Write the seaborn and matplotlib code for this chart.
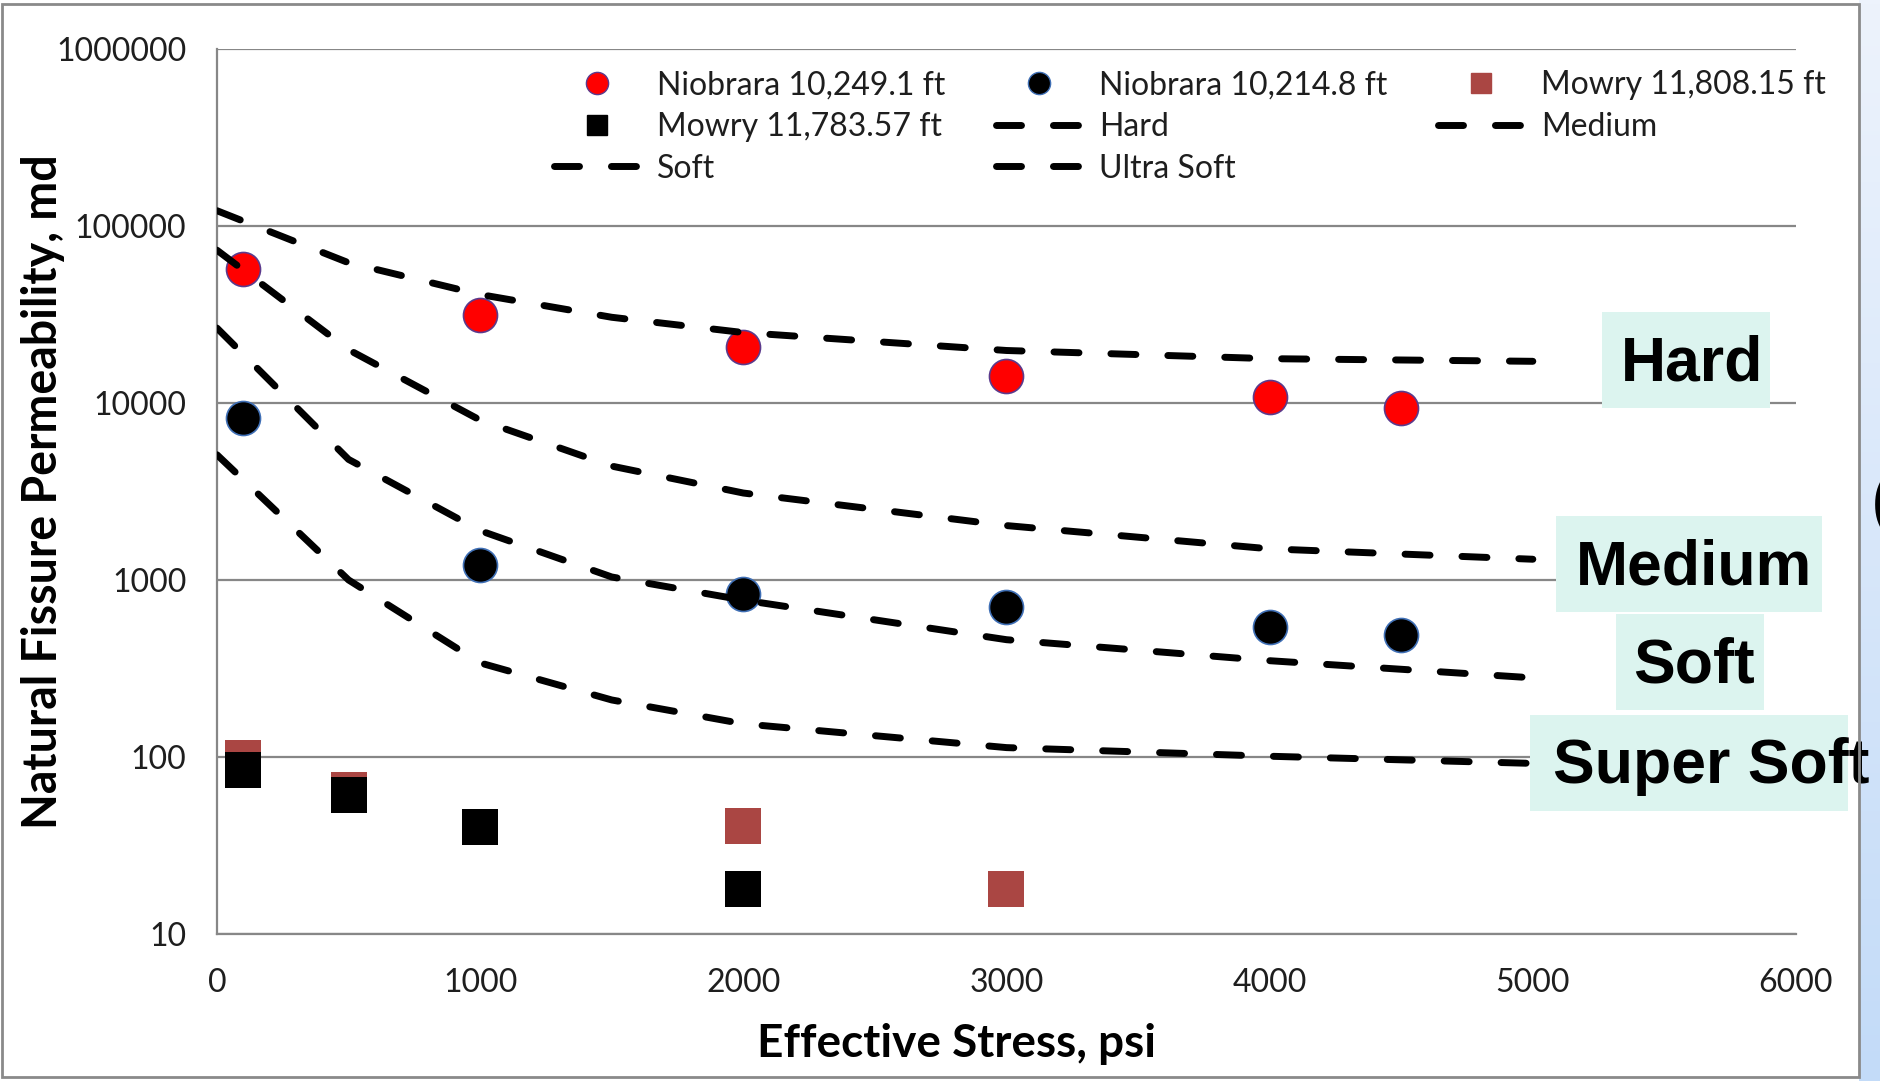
import numpy as np
import matplotlib
matplotlib.use("Agg")
import matplotlib.pyplot as plt
import matplotlib.patches as mpatches
from matplotlib.lines import Line2D
from matplotlib.colors import LinearSegmentedColormap
from matplotlib.ticker import FixedLocator, FixedFormatter, NullLocator
import seaborn as sns

# Measured fissure permeability (md) vs effective stress (psi)
stress_pts = [100, 1000, 2000, 3000, 4000, 4500]
niobrara_10249 = [57000, 31500, 20800, 14300, 10800, 9400]
niobrara_10214 = [8200, 1210, 830, 700, 545, 490]
mowry_11808_stress = [100, 500, 2000, 3000]
mowry_11808 = [99, 65, 41, 18]
mowry_11783_stress = [100, 500, 1000, 2000]
mowry_11783 = [84, 61, 40, 18]

# Rock-type reference curves
curve_stress = [0, 500, 1000, 1500, 2000, 3000, 4000, 5000]
hard = [122000, 62000, 41000, 30500, 25000, 19800, 17800, 17200]
medium = [73000, 20000, 8000, 4400, 3100, 2030, 1500, 1310]
soft = [26500, 4800, 1900, 1040, 770, 460, 350, 280]
ultra_soft = [5100, 1000, 340, 210, 154, 113, 101, 92]

series_names = ["Niobrara 10,249.1 ft", "Niobrara 10,214.8 ft",
                "Mowry 11,808.15 ft", "Mowry 11,783.57 ft",
                "Hard", "Medium", "Soft", "Ultra Soft"]
zone_labels = ["Hard", "Medium", "Soft", "Super Soft"]

x_ticks = [0, 1000, 2000, 3000, 4000, 5000, 6000]
x_tick_labels = ["0", "1000", "2000", "3000", "4000", "5000", "6000"]
y_ticks = [10, 100, 1000, 10000, 100000, 1000000]
y_tick_labels = ["10", "100", "1000", "10000", "100000", "1000000"]

sns.set_style("white")
plt.rcParams["font.family"] = ["Lato", "DejaVu Sans"]

W, H = 1881, 1081


def fx(x):
    return x / W


def fy(y):
    return 1 - y / H


fig = plt.figure(figsize=(W / 100, H / 100), dpi=100)
fig.patch.set_facecolor("white")

# slide background strip on the right
bg = fig.add_axes([fx(1859), 0, 1 - fx(1859), 1])
grad = np.linspace(0, 1, 256)[:, None]
cmap_bg = LinearSegmentedColormap.from_list("bg", ["#EDF3FC", "#C3DBF8"])
bg.imshow(grad, aspect="auto", cmap=cmap_bg, extent=[0, 1, 0, 1])
bg.set_axis_off()

ax = fig.add_axes([fx(217), fy(934), fx(1796) - fx(217), fy(49) - fy(934)])
ax.set_yscale("log")
ax.set_xlim(0, 6000)
ax.set_ylim(10, 1000000)

grey = "#878787"
ax.yaxis.grid(True, color=grey, linewidth=1.6)
ax.xaxis.grid(False)
ax.set_axisbelow(True)
for side in ["top", "right"]:
    ax.spines[side].set_visible(False)
for side in ["left", "bottom"]:
    ax.spines[side].set_color(grey)
    ax.spines[side].set_linewidth(1.6)

ax.xaxis.set_major_locator(FixedLocator(x_ticks))
ax.xaxis.set_major_formatter(FixedFormatter(x_tick_labels))
ax.yaxis.set_major_locator(FixedLocator(y_ticks))
ax.yaxis.set_major_formatter(FixedFormatter(y_tick_labels))
ax.yaxis.set_minor_locator(NullLocator())
ax.xaxis.set_minor_locator(NullLocator())
ax.tick_params(axis="x", direction="out", length=10.5, width=1.6, color=grey,
               pad=14, labelsize=23, labelcolor="#1e1e1e")
ax.tick_params(axis="y", direction="out", length=8.5, width=1.6, color=grey,
               pad=13.5, labelsize=23, labelcolor="#1e1e1e")
ax.set_xlabel("")
ax.set_ylabel("")

# measured points
sns.scatterplot(x=mowry_11808_stress, y=mowry_11808, ax=ax, marker="s", s=700,
                color="#AA4643", edgecolor="#AA4643", linewidth=0, zorder=3)
sns.scatterplot(x=mowry_11783_stress, y=mowry_11783, ax=ax, marker="s", s=700,
                color="black", edgecolor="black", linewidth=0, zorder=3)
sns.scatterplot(x=stress_pts, y=niobrara_10249, ax=ax, marker="o", s=600,
                color="#FF0000", edgecolor="#5B3A8C", linewidth=1.2, zorder=3)
sns.scatterplot(x=stress_pts, y=niobrara_10214, ax=ax, marker="o", s=600,
                color="black", edgecolor="#3F6FB5", linewidth=1.2, zorder=3)

dash_style = (0, (3.6, 4.6))
for curve in [hard, medium, soft, ultra_soft]:
    sns.lineplot(x=curve_stress, y=curve, ax=ax, color="black", linewidth=5,
                 linestyle=dash_style, dash_capstyle="round", zorder=4,
                 legend=False)

# legend (row-major order across three columns)
h_n1 = Line2D([], [], linestyle="none", marker="o", markersize=16,
              markerfacecolor="#FF0000", markeredgecolor="#5B3A8C", markeredgewidth=1)
h_n2 = Line2D([], [], linestyle="none", marker="o", markersize=16,
              markerfacecolor="black", markeredgecolor="#3F6FB5", markeredgewidth=1)
h_m1 = Line2D([], [], linestyle="none", marker="s", markersize=15,
              markerfacecolor="#AA4643", markeredgecolor="#AA4643")
h_m2 = Line2D([], [], linestyle="none", marker="s", markersize=15,
              markerfacecolor="black", markeredgecolor="black")
h_lines = [Line2D([], [], color="black", linewidth=5, linestyle=dash_style,
                  dash_capstyle="round") for _ in range(4)]
handles = [h_n1, h_n2, h_m1, h_m2] + h_lines
order = [0, 3, 6, 1, 4, 7, 2, 5]
leg = ax.legend([handles[i] for i in order], [series_names[i] for i in order],
                ncol=3, loc="center", bbox_to_anchor=(fx(1190), fy(127)),
                bbox_transform=fig.transFigure, frameon=False, fontsize=23,
                handlelength=2.65, handletextpad=0.56, columnspacing=1.6,
                labelspacing=0.36, borderpad=0)
for t in leg.get_texts():
    t.set_color("#1e1e1e")

# axis titles
fig.text(fx(957), fy(1057), "Effective Stress, psi", ha="center", va="baseline",
         fontsize=33, fontweight="bold", color="black")
fig.text(fx(57), fy(492), "Natural Fissure Permeability, md", ha="center",
         va="baseline", rotation=90, rotation_mode="anchor",
         fontsize=33.5, fontweight="bold", color="black")

# rock-type tags on the right
mint = "#DCF4EF"
boxes = [(1602, 312, 1770, 408), (1556, 516, 1822, 612),
         (1616, 614, 1764, 710), (1530, 715, 1848, 811)]
centers = [(1692, 364), (1694, 568), (1694, 666), (1711, 767)]
for (x0, y0, x1, y1), (cx, cy), lab in zip(boxes, centers, zone_labels):
    fig.add_artist(mpatches.Rectangle((fx(x0), fy(y1)), fx(x1) - fx(x0),
                                      fy(y0) - fy(y1), transform=fig.transFigure,
                                      facecolor=mint, edgecolor="none", zorder=2))
    fig.text(fx(cx), fy(cy), lab, ha="center", va="center", fontsize=45,
             fontweight="bold", family=["Liberation Sans", "DejaVu Sans"],
             color="black", zorder=5)

# chart frame
fig.add_artist(mpatches.Rectangle((fx(2), fy(1077)), fx(1859) - fx(2),
                                  fy(4) - fy(1077), transform=fig.transFigure,
                                  facecolor="none", edgecolor="#8A8A8A",
                                  linewidth=2, zorder=6))
fig.text(fx(1872), fy(505), "(", ha="left", va="center", fontsize=45,
         fontweight="bold", family=["Liberation Sans", "DejaVu Sans"],
         color="black", zorder=6)

fig.savefig("out.png", dpi=100)
